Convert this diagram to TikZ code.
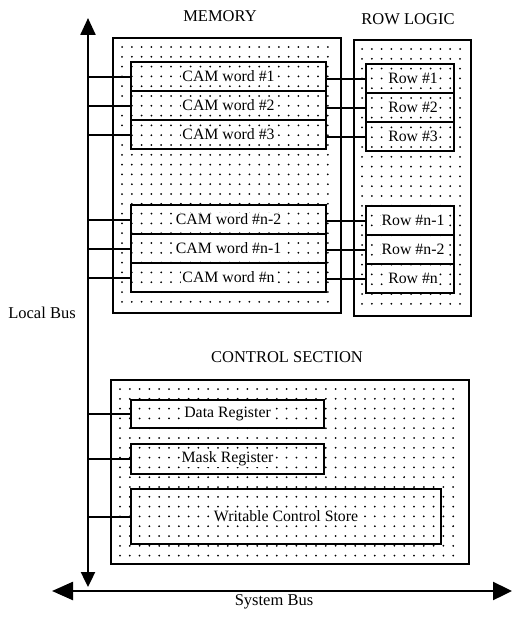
\documentclass[tikz,border=0pt]{standalone}
\usepackage{fontspec}
\setmainfont{Liberation Serif}
\usetikzlibrary{arrows.meta}
\tikzset{
  outerbox/.style={draw, line width=2.2pt, minimum width=#1, anchor=north west, inner sep=0pt},
  innerbox/.style={draw, line width=2.1pt, anchor=north west, inner sep=0pt},
  boxtext/.style={fill=white, inner sep=1pt, font=\fontsize{15.8}{17}\selectfont},
  title/.style={font=\fontsize{16.5}{18}\selectfont, inner sep=0pt},
  wire/.style={line width=2.1pt},
  bus/.style={line width=2.4pt},
}
\newcommand{\mydots}[4]{%
  \foreach \i in {0,...,#3}{\foreach \j in {0,...,#4}{%
    \fill (#1+\i*9.8,#2+\j*9.8) circle (1pt);}}}
\begin{document}
\begin{tikzpicture}[x=1pt,y=-1pt]
\useasboundingbox (0,0) rectangle (513,618);
% outer boxes
\node[outerbox=228pt, minimum height=275pt] (mem) at (112,37) {};
\node[outerbox=117pt, minimum height=276pt] (rl) at (353,39) {};
\node[outerbox=358pt, minimum height=184pt] (ctl) at (110,379) {};
% dots
\mydots{122}{47}{21}{26}
\mydots{362}{49}{10}{26}
\mydots{120}{389}{34}{17}
% CAM words
\foreach \n/\y/\t in {c1/61/{CAM word \#1}, c2/90/{CAM word \#2}, c3/119/{CAM word \#3},
                      c4/204/{CAM word \#n-2}, c5/233/{CAM word \#n-1}, c6/262/{CAM word \#n}}{
  \node[innerbox, minimum width=195pt, minimum height=29pt] (\n) at (130,\y) {};
  \node[boxtext] at (\n.center) {\t};
}
% Rows
\foreach \n/\y/\t in {r1/63/{Row \#1}, r2/92/{Row \#2}, r3/121/{Row \#3},
                      r4/205/{Row \#n-1}, r5/234/{Row \#n-2}, r6/263/{Row \#n}}{
  \node[innerbox, minimum width=88pt, minimum height=29pt] (\n) at (365,\y) {};
  \node[boxtext] at ([xshift=3pt]\n.center) {\t};
}
% control section boxes
\node[innerbox, minimum width=193pt, minimum height=28pt] (dr) at (130,399) {};
\node[boxtext] at (dr.center) {Data Register};
\node[innerbox, minimum width=193pt, minimum height=30pt] (mr) at (130,443) {};
\node[boxtext] at (mr.center) {Mask Register};
\node[innerbox, minimum width=310pt, minimum height=55pt] (wcs) at (130,488) {};
\node[boxtext] at (wcs.center) {Writable Control Store};
% titles
\node[title] (tmem) at (220,16) {MEMORY};
\node[title] (trl) at (408,19) {ROW LOGIC};
\node[title] (tctl) at (287,357) {CONTROL SECTION};
\node[title] (tlb) at (42,313) {Local Bus};
\node[title] (tsb) at (274,602) {System Bus};
% buses
\coordinate (lbtop) at (88,18);
\coordinate (lbbot) at (88,587);
\coordinate (sbl) at (52,591);
\coordinate (sbr) at (512,591);
\draw[bus, {Triangle[length=15pt,width=14pt]}-{Triangle[length=17pt,width=15pt]}] (lbbot) -- (lbtop);
\draw[bus, {Triangle[length=21pt,width=18pt]}-{Triangle[length=19pt,width=18pt]}] (sbl) -- (sbr);
% connectors local bus -> boxes
\foreach \n in {c1,c2,c3,c4,c5,c6,dr,mr,wcs}{
  \draw[wire] (\n.west) -- (\n.west -| lbtop);
}
% CAM -> row
\foreach \a/\b in {c1/r1,c2/r2,c3/r3,c4/r4,c5/r5,c6/r6}{
  \draw[wire] (\b.west) -- (\b.west -| \a.east);
}
\end{tikzpicture}
\end{document}
